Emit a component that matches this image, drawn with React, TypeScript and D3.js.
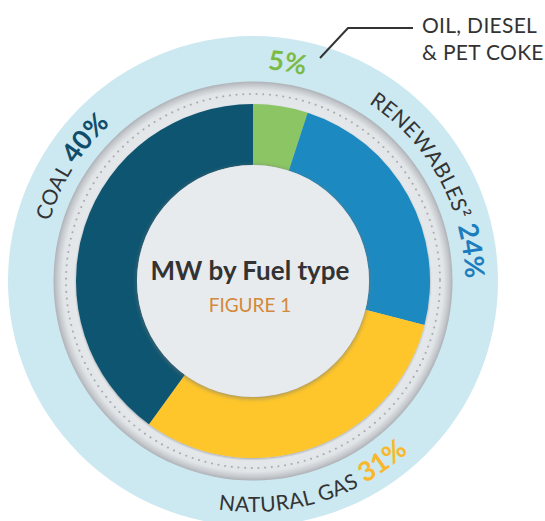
import * as d3 from 'd3';
import React from 'react';

// shares of installed MW, clockwise from 12 o'clock
const fuels = ['OIL, DIESEL & PET COKE', 'RENEWABLES²', 'NATURAL GAS', 'COAL'];
const shares = [5, 24, 31, 40];
const sliceColors = ['#8cc563', '#1a8ac1', '#fec62c', '#0e5470'];
const pctColors = ['#7bbb45', '#1b7dbd', '#fbb72a', '#0f4d6b'];
const calloutLines = ['OIL, DIESEL', '& PET COKE'];
const title = 'MW by Fuel type';
const subtitle = 'FIGURE 1';

const W = 545;
const H = 521;
const cx = 253;
const cy = 281;
const rOuter = 245;
const rGray = 199.5;
const rDots = 187;
const rDonutOut = 177;
const rDonutIn = 116;
// nudges for where the ring labels sit relative to their slice (degrees)
const labelShift = [0, 0, 3, 14];

const deg = Math.PI / 180;

export default function App() {
  const pie = d3.pie<number>().sort(null).value((d) => d);
  const arcs = pie(shares);
  const arcGen = d3.arc<d3.PieArcDatum<number>>().innerRadius(rDonutIn).outerRadius(rDonutOut);

  const labelPaths = arcs.map((a, i) => {
    const mid = (a.startAngle + a.endAngle) / 2 + labelShift[i] * deg;
    const flip = mid > Math.PI / 2 && mid < (3 * Math.PI) / 2;
    const p = d3.path();
    const ca = mid - Math.PI / 2; // canvas angle
    if (flip) {
      p.arc(cx, cy, 231, ca + 85 * deg, ca - 85 * deg, true);
    } else {
      p.arc(cx, cy, 212, ca - 85 * deg, ca + 85 * deg, false);
    }
    return p.toString();
  });

  const fontFam = 'Lato, "Open Sans", sans-serif';

  return (
    <svg width={W} height={H} style={{ position: 'absolute', left: 0, top: 0, background: '#fff' }}>
      <defs>
        <radialGradient id="grayRing" gradientUnits="userSpaceOnUse" cx={cx} cy={cy} r={rGray}>
          <stop offset="0.86" stopColor="#e7eaed" />
          <stop offset="0.955" stopColor="#e2e5e8" />
          <stop offset="0.985" stopColor="#c3c7cb" />
          <stop offset="1" stopColor="#aeb2b7" />
        </radialGradient>
        <filter id="soft" x="-20%" y="-20%" width="140%" height="140%">
          <feGaussianBlur stdDeviation="2.2" />
        </filter>
        <filter id="donutShadow" x="-20%" y="-20%" width="140%" height="140%">
          <feDropShadow dx="0" dy="1" stdDeviation="1.2" floodColor="#000" floodOpacity="0.3" />
        </filter>
        {labelPaths.map((d, i) => (
          <path key={i} id={'lp-' + i} d={d} fill="none" />
        ))}
      </defs>

      <circle cx={cx} cy={cy} r={rOuter} fill="#cce8f0" />
      <circle cx={cx} cy={cy} r={rGray} fill="url(#grayRing)" />
      <circle
        cx={cx}
        cy={cy}
        r={rDots}
        fill="none"
        stroke="#a8adb2"
        strokeWidth={2}
        strokeLinecap="round"
        strokeDasharray="0.1 6.6"
      />

      <g transform={`translate(${cx},${cy})`} filter="url(#donutShadow)">
        {arcs.map((a, i) => (
          <path key={fuels[i]} d={arcGen(a) || ''} fill={sliceColors[i]} />
        ))}
      </g>

      <circle cx={cx} cy={cy + 1} r={rDonutIn + 1} fill="#6d747a" opacity={0.55} filter="url(#soft)" />
      <circle cx={cx} cy={cy} r={rDonutIn} fill="#e8ebee" />

      <text x={cx - 3} y={280} textAnchor="middle" fontFamily={fontFam} fontWeight="bold" fontSize={26} fill="#333">
        {title}
      </text>
      <text x={cx - 3} y={312} textAnchor="middle" fontFamily={fontFam} fontSize={19} fill="#d2893b">
        {subtitle}
      </text>

      {arcs.map((a, i) => (
        <text key={'lab' + i} fontFamily={fontFam}>
          <textPath href={'#lp-' + i} startOffset="50%" textAnchor="middle">
            {i > 0 && (
              <tspan fontSize={21} fill="#333" letterSpacing={0.5}>
                {fuels[i] + ' '}
              </tspan>
            )}
            <tspan fontSize={27} fontWeight="bold" fill={pctColors[i]}>
              {a.data + '%'}
            </tspan>
          </textPath>
        </text>
      ))}

      <polyline points="320,58 348,28 413,28" fill="none" stroke="#333" strokeWidth={2} />
      {calloutLines.map((t, i) => (
        <text key={t} x={422} y={33 + i * 27} fontFamily={fontFam} fontSize={21} fill="#333" letterSpacing={0.3}>
          {t}
        </text>
      ))}
    </svg>
  );
}
